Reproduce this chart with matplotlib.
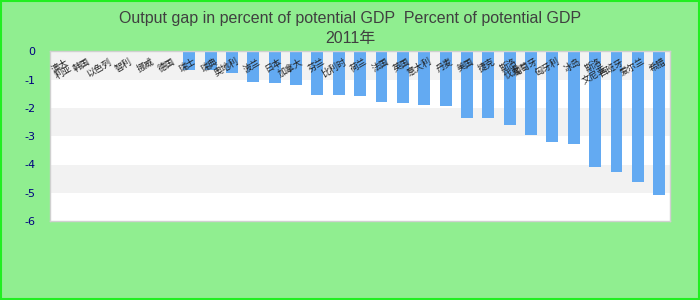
import numpy as np
import matplotlib
matplotlib.use('Agg')
import matplotlib.pyplot as plt

############### data ################################
countries = ['澳大利亚', '韩国', '以色列', '智利', '挪威', '德国',
             '瑞士', '瑞典', '奥地利', '波兰', '日本', '加拿大',
             '芬兰', '比利时', '荷兰', '法国', '英国', '意大利',
             '丹麦', '美国', '捷克', '斯洛伐克', '葡萄牙', '匈牙利',
             '冰岛', '斯洛文尼亚', '西班牙', '爱尔兰', '希腊']
gap_2011 = [0.0, 0.0, 0.0, 0.0, 0.0, 0.0,
            -0.66, -0.66, -0.77, -1.07, -1.12, -1.19,
            -1.54, -1.54, -1.58, -1.79, -1.82, -1.89,
            -1.93, -2.34, -2.34, -2.60, -2.95, -3.22,
            -3.29, -4.10, -4.28, -4.63, -5.09]
yticks = [0, -1, -2, -3, -4, -5, -6]
title = 'Output gap in percent of potential GDP  Percent of potential GDP\n2011年'

############### style ################################
bg = '#90EE90'
bar_color = '#63AAF2'
band_color = '#F2F2F2'
cjk = ['Noto Sans CJK SC', 'DejaVu Sans']

fig = plt.figure(figsize=(7, 3), dpi=100, facecolor=bg)
fig.patches.append(plt.Rectangle((0.001, 0.002), 0.997, 0.995, transform=fig.transFigure,
                                 fill=False, edgecolor='#22EE22', linewidth=1.5))
ax = fig.add_axes([0.072, 0.263, 0.885, 0.566])

x = np.arange(len(countries))
ax.bar(x, gap_2011, width=0.56, color=bar_color, zorder=2)

# alternating bands between gridlines
for k in range(0, 6, 2):
    ax.axhspan(yticks[k + 1], yticks[k], color=band_color, zorder=0, lw=0)

ax.set_xlim(-0.5, len(countries) - 0.5)
ax.set_ylim(-6, 0)
ax.set_yticks(yticks)
ax.set_yticklabels([str(t) for t in yticks], color='#000080', fontsize=8,
                   family='DejaVu Sans')
ax.tick_params(axis='y', length=0, pad=11)
ax.set_xticks([])

for s in ax.spines.values():
    s.set_color('#D0D0D0')
    s.set_linewidth(1)

# category labels sit under the zero line
for i, name in enumerate(countries):
    lab = name if len(name) <= 3 else name[:2] + '\n' + name[2:]
    ax.text(i + 0.2, -0.2, lab, rotation=30, ha='right', va='top',
            rotation_mode='anchor', fontsize=6.5, family=cjk,
            color='#202020', zorder=3, linespacing=0.9)

fig.suptitle(title, y=0.965, fontsize=11.5, color='#404040',
             family=['Liberation Sans'] + cjk, linespacing=1.45)

plt.savefig('out.png', dpi=100, facecolor=bg)
